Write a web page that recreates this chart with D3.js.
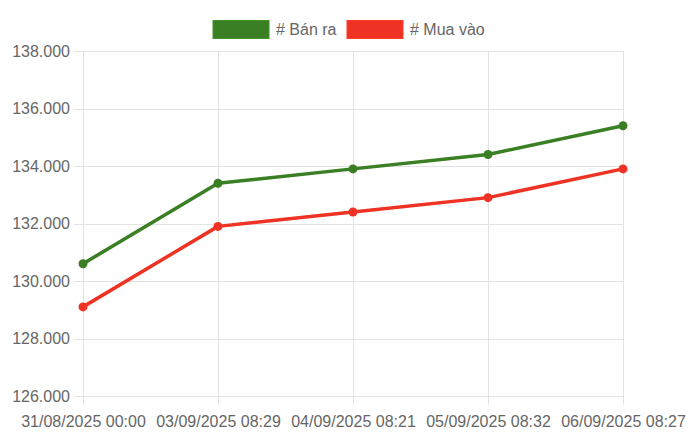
<!DOCTYPE html>
<html><head><meta charset="utf-8">
<script src="https://cdn.jsdelivr.net/npm/d3@7"></script>
<style>body{margin:0;background:#fff}svg{display:block}</style>
</head><body>
<svg id="c" width="700" height="437"></svg>
<script>
const categories = ["31/08/2025 00:00","03/09/2025 08:29","04/09/2025 08:21","05/09/2025 08:32","06/09/2025 08:27"];
const banRa = [130600,133400,133900,134400,135400];
const muaVao = [129100,131900,132400,132900,133900];
const yTicks = [126000,128000,130000,132000,134000,136000,138000];
const seriesNames = ["# Bán ra","# Mua vào"];
const colors = ["#3a7f24","#ee3324"];

const svg = d3.select("#c");
const font = "'Liberation Sans', Arial, Helvetica, sans-serif";
const L=83, R=623, T=51, B=396;
const x = d3.scalePoint().domain(categories).range([L,R]);
const y = d3.scaleLinear().domain([126000,138000]).range([B,T]);

const gy = svg.append("g").attr("transform",`translate(${L},0)`)
  .call(d3.axisLeft(y).tickValues(yTicks).tickSize(-(R-L)).tickPadding(4).tickFormat(v=>(v/1000).toFixed(3)));
gy.select(".domain").remove();
gy.selectAll(".tick line").attr("stroke","#e3e3e3").attr("x1",-9).attr("x2",R-L).attr("shape-rendering","crispEdges");
gy.selectAll(".tick text").attr("fill","#666").attr("font-family",font).attr("font-size",16).attr("x",-13);

const gx = svg.append("g").attr("transform",`translate(0,${B})`)
  .call(d3.axisBottom(x).tickSize(0).tickPadding(0));
gx.select(".domain").remove();
gx.selectAll(".tick line").attr("stroke","#e3e3e3").attr("y1",-(B-T)).attr("y2",9).attr("shape-rendering","crispEdges");
gx.selectAll(".tick text").attr("fill","#666").attr("font-family",font).attr("font-size",16).attr("dy",0).attr("y",31);

const data = [banRa, muaVao];
const line = d3.line().x((d,i)=>x(categories[i])).y(d=>y(d));
data.forEach((s,k)=>{
  svg.append("path").datum(s).attr("d",line).attr("fill","none").attr("stroke",colors[k]).attr("stroke-width",3.5).attr("stroke-linejoin","round");
  svg.selectAll(null).data(s).enter().append("circle")
    .attr("cx",(d,i)=>x(categories[i])).attr("cy",d=>y(d)).attr("r",4.5).attr("fill",colors[k]);
});

const legX = [213, 347];
seriesNames.forEach((n,k)=>{
  svg.append("rect").attr("x",legX[k]).attr("y",20.5).attr("width",56).attr("height",18)
    .attr("fill",colors[k]).attr("stroke",d3.color(colors[k]).brighter(0.4)).attr("stroke-width",1);
  svg.append("text").attr("x",legX[k]+63).attr("y",35).attr("fill","#666").attr("font-family",font).attr("font-size",16).text(n);
});
</script>
</body></html>
